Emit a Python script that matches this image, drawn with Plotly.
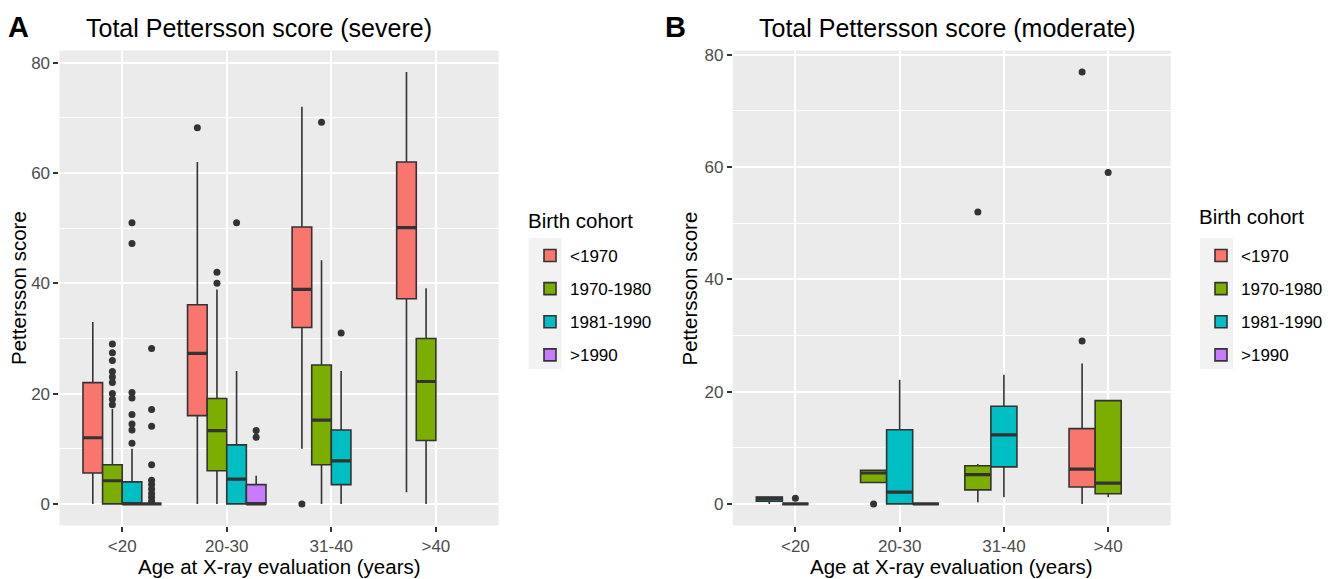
import plotly.graph_objects as go

# ---------------- data ----------------
categories = ["<20", "20-30", "31-40", ">40"]
cohorts = ["<1970", "1970-1980", "1981-1990", ">1990"]
cohort_colors = ["#F8766D", "#7CAE00", "#00BFC4", "#C77CFF"]

# Panel A: severe  (rows = cohorts, columns = age categories; None = no data)
severe_lower = [[0, 0, 10, 2.1], [0, 0, 0, 0], [0, 0, 0, None], [0, 0, None, None]]
severe_q1 = [[5.6, 16, 32, 37.2], [0, 6, 7.1, 11.5], [0, 0, 3.5, None], [0, 0, None, None]]
severe_median = [[12, 27.3, 38.9, 50.1], [4.2, 13.3, 15.2, 22.2], [0, 4.5, 7.8, None], [0, 0, None, None]]
severe_q3 = [[22, 36.1, 50.2, 62], [7.1, 19.1, 25.2, 30], [4, 10.7, 13.4, None], [0, 3.5, None, None]]
severe_upper = [[33, 62, 72, 78.3], [17.2, 38.9, 44.2, 39.1], [10, 24.1, 24.1, None], [0, 5.1, None, None]]
severe_outliers = [
    [[], [68.2], [0], []],
    [[29, 27.4, 26, 24, 23, 22, 20, 19, 18], [42, 40], [69.2], []],
    [[51, 47.2, 20.2, 19.2, 16.2, 14.5, 13.4, 11], [51], [31], []],
    [[28.2, 17.1, 14.1, 7.1, 4.3, 3.5, 2.7, 1.9, 1.2, 0.5], [13.3, 12.1], [], []],
]

# Panel B: moderate
moderate_lower = [[None, None, None, 0], [None, 3.8, 0.3, 1.2], [0, 0, 1.2, None], [0, 0, None, None]]
moderate_q1 = [[None, None, None, 3], [None, 3.8, 2.5, 1.8], [0.5, 0, 6.6, None], [0, 0, None, None]]
moderate_median = [[None, None, None, 6.2], [None, 5.5, 5.2, 3.7], [1, 2.1, 12.3, None], [0, 0, None, None]]
moderate_q3 = [[None, None, None, 13.4], [None, 6, 6.8, 18.4], [1.2, 13.2, 17.4, None], [0, 0, None, None]]
moderate_upper = [[None, None, None, 25], [None, 6, 7.1, 18.4], [1.2, 22.1, 23, None], [0, 0, None, None]]
moderate_outliers = [
    [[], [], [], [76.9, 29]],
    [[], [0], [52], [59]],
    [[], [], [], []],
    [[1], [], [], []],
]

# ---------------- styling ----------------
FONT = "Liberation Sans, Arial, sans-serif"
W, H = 1328, 579
BOX_LINE = "#333333"
DODGE = 0.75  # total dodge width per category (ggplot default)

fig = go.Figure()


def add_panel(lower, q1, med, q3, upper, outl, xa, ya, legend_name):
    n_cat = len(categories)
    present = [[c for c in range(len(cohorts)) if med[c][k] is not None] for k in range(n_cat)]
    n_slots = max(len(p) for p in present)
    w = DODGE / n_slots
    all_vals = []
    for c, name in enumerate(cohorts):
        xs, l_, a_, m_, b_, u_ = [], [], [], [], [], []
        ox, oy = [], []
        for k in range(n_cat):
            if med[c][k] is None:
                continue
            slot = present[k].index(c)
            pos = (k + 1) + (slot - (n_slots - 1) / 2) * w
            xs.append(pos)
            l_.append(lower[c][k]); a_.append(q1[c][k]); m_.append(med[c][k])
            b_.append(q3[c][k]); u_.append(upper[c][k])
            for v in outl[c][k]:
                ox.append(pos); oy.append(v)
            all_vals += [lower[c][k], upper[c][k]] + list(outl[c][k])
        common = dict(xaxis=xa, yaxis=ya, legend=legend_name,
                      legendgroup=f"{legend_name}-{name}", name=name,
                      hoverinfo="skip")
        fig.add_trace(go.Box(
            x=xs if xs else [None], q1=a_ if a_ else [None], median=m_ if m_ else [None],
            q3=b_ if b_ else [None], lowerfence=l_ if l_ else [None],
            upperfence=u_ if u_ else [None],
            width=w, whiskerwidth=0, boxpoints=False,
            fillcolor=cohort_colors[c], line=dict(color=BOX_LINE, width=1.6),
            showlegend=True, **common))
        if xs:
            # fattened median line (ggplot draws the median thicker)
            fig.add_trace(go.Box(
                x=xs, q1=m_, median=m_, q3=m_, lowerfence=m_, upperfence=m_,
                width=w, whiskerwidth=0, boxpoints=False,
                fillcolor="rgba(0,0,0,0)", line=dict(color=BOX_LINE, width=3.2),
                showlegend=False, **common))
        if ox:
            fig.add_trace(go.Scatter(
                x=ox, y=oy, mode="markers",
                marker=dict(color=BOX_LINE, size=7, line=dict(width=0)),
                showlegend=False, **common))
    vmin, vmax = min(all_vals), max(all_vals)
    pad = 0.05 * (vmax - vmin)
    return [vmin - pad, vmax + pad]


yr1 = add_panel(severe_lower, severe_q1, severe_median, severe_q3, severe_upper,
                severe_outliers, "x", "y", "legend")
yr2 = add_panel(moderate_lower, moderate_q1, moderate_median, moderate_q3, moderate_upper,
                moderate_outliers, "x2", "y2", "legend2")

ydom = [1 - 525.5 / H, 1 - 50.5 / H]
xaxis_common = dict(
    range=[0.4, 4.6], tickmode="array", tickvals=[1, 2, 3, 4], ticktext=categories,
    showgrid=True, gridcolor="white", gridwidth=2, zeroline=False, showline=False,
    ticks="outside", ticklen=5, tickwidth=1.5, tickcolor="#333333",
    tickfont=dict(family=FONT, size=17, color="#4D4D4D"), automargin=False,
)
yaxis_common = dict(
    tickmode="linear", tick0=0, dtick=20,
    showgrid=True, gridcolor="white", gridwidth=2, zeroline=False, showline=False,
    ticks="outside", ticklen=5, tickwidth=1.5, tickcolor="#333333",
    tickfont=dict(family=FONT, size=17, color="#4D4D4D"), automargin=False,
    minor=dict(dtick=10, tick0=0, showgrid=True, gridcolor="white", gridwidth=1, ticks=""),
    domain=ydom,
)

legend_common = dict(
    xanchor="left", yanchor="top", bgcolor="rgba(0,0,0,0)",
    font=dict(family=FONT, size=17, color="black"),
    tracegroupgap=8, itemclick=False,
)

fig.update_layout(
    width=W, height=H, autosize=False,
    margin=dict(l=0, r=0, t=0, b=0),
    paper_bgcolor="white", plot_bgcolor="#EBEBEB",
    boxmode="overlay", showlegend=True,
    font=dict(family=FONT),
    xaxis=dict(domain=[59.5 / W, 499 / W], anchor="y", **xaxis_common),
    yaxis=dict(range=yr1, anchor="x", **yaxis_common),
    xaxis2=dict(domain=[733.4 / W, 1171.6 / W], anchor="y2", **xaxis_common),
    yaxis2=dict(range=yr2, anchor="x2", **yaxis_common),
    legend=dict(x=530 / W, y=1 - 238 / H, **legend_common),
    legend2=dict(x=1202 / W, y=1 - 238 / H, **legend_common),
)

# grey legend-key backgrounds (ggplot style)
for x0 in (529, 1201):
    fig.add_shape(type="rect", xref="paper", yref="paper", layer="below",
                  x0=x0 / W, x1=(x0 + 33) / W, y0=1 - 369 / H, y1=1 - 238 / H,
                  fillcolor="#F2F2F2", line=dict(width=0))


def ann(text, x, y, size, bold=False, angle=0, xanchor="left"):
    fig.add_annotation(
        text=f"<b>{text}</b>" if bold else text, x=x / W, y=1 - y / H,
        xref="paper", yref="paper", showarrow=False, textangle=angle,
        xanchor=xanchor, yanchor="middle",
        font=dict(family=FONT, size=size, color="black"))


ann("A", 6, 27, 29, bold=True)
ann("Total Pettersson score (severe)", 84, 28, 25)
ann("B", 663, 27, 29, bold=True)
ann("Total Pettersson score (moderate)", 758, 28, 25)
ann("Birth cohort", 526, 220, 20.5)
ann("Birth cohort", 1198, 216, 20.5)
ann("Pettersson score", 18, 288, 20.5, angle=-90, xanchor="center")
ann("Pettersson score", 690, 288, 20.5, angle=-90, xanchor="center")
ann("Age at X-ray evaluation (years)", 280, 566, 20.5, xanchor="center")
ann("Age at X-ray evaluation (years)", 952, 566, 20.5, xanchor="center")

fig.write_html(
    "out.html",
    config={"displayModeBar": False},
    post_script="document.body.style.margin='0px';document.body.style.padding='0px';",
)
